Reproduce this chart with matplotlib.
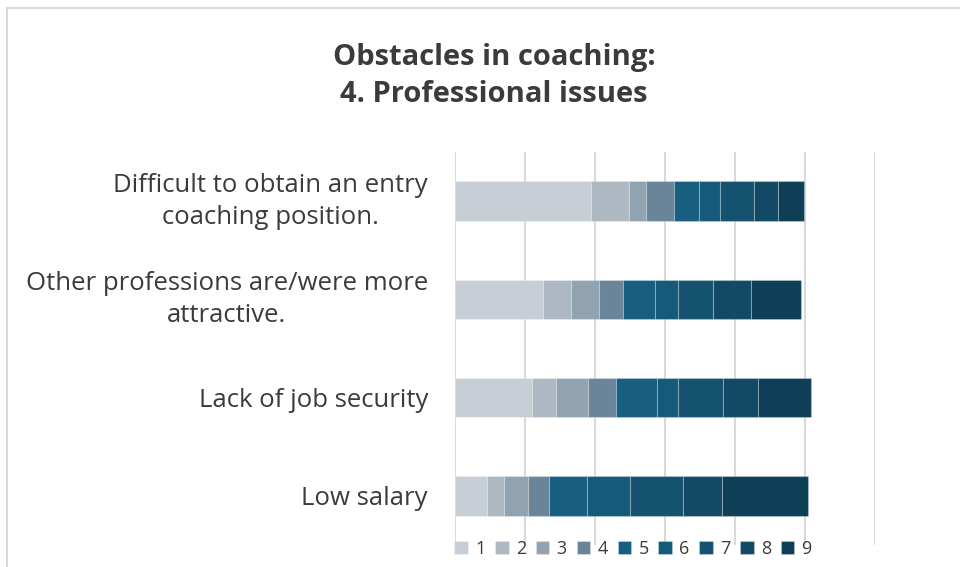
import numpy as np
import matplotlib.pyplot as plt
from matplotlib.lines import Line2D

plt.rcParams["font.family"] = ["Open Sans", "DejaVu Sans"]

categories = [
    "Difficult to obtain an entry\ncoaching position.",
    "Other professions are/were more\nattractive.",
    "Lack of job security",
    "Low salary",
]
levels = ["1", "2", "3", "4", "5", "6", "7", "8", "9"]

# one list per category, values for levels 1..9
difficult_entry = [19.4, 5.4, 2.5, 4.0, 3.5, 3.1, 4.8, 3.4, 3.7]
other_professions = [12.6, 4.0, 4.0, 3.4, 4.5, 3.4, 5.0, 5.4, 7.1]
job_security = [11.0, 3.4, 4.6, 4.0, 5.9, 3.0, 6.4, 5.0, 7.6]
low_salary = [4.6, 2.4, 3.4, 3.0, 5.5, 6.1, 7.5, 5.6, 12.3]

colors = ["#c7ced6", "#adb8c3", "#91a3b0", "#6a8599", "#175e80",
          "#155a7a", "#14526f", "#124a66", "#0f3f57"]
text_color = "#3b3b3b"

data = np.array([difficult_entry, other_professions, job_security, low_salary])

fig = plt.figure(figsize=(9.6, 5.67), dpi=100)
ax = fig.add_axes([455 / 960, 1 - 545 / 567, 420 / 960, 393 / 567])

y = np.arange(len(categories))
left = np.zeros(len(categories))
for i, lev in enumerate(levels):
    ax.barh(y, data[:, i], left=left, height=0.4, color=colors[i],
            edgecolor=(1, 1, 1, 0.25), linewidth=0.8, label=lev, zorder=3)
    left += data[:, i]

ax.set_xlim(0, 60)
ax.set_ylim(len(categories) - 0.5, -0.5)
ax.set_xticks(np.arange(0, 61, 10))
ax.xaxis.grid(True, color="#d9d9d9", linewidth=1.5, zorder=0)
ax.tick_params(axis="x", length=0, labelbottom=False)
ax.tick_params(axis="y", length=0, pad=19.5)
ax.set_yticks(y)
ax.set_yticklabels(categories, fontsize=18.5, color=text_color, linespacing=1.38)
for lbl in ax.get_yticklabels():
    lbl.set_horizontalalignment("right")
    lbl.set_multialignment("center")
    if "\n" in lbl.get_text():
        lbl.set_verticalalignment("center")
for s in ax.spines.values():
    s.set_visible(False)

fig.text(494 / 960, 1 - 76 / 567, "Obstacles in coaching:\n4. Professional issues",
         ha="center", va="center", fontsize=21, fontweight="bold",
         color=text_color, linespacing=1.36)

# chart border (cropped at right and bottom)
fig.add_artist(Line2D([7 / 960, 1], [1 - 8 / 567] * 2, transform=fig.transFigure,
                      color="#d9d9d9", linewidth=1.5))
fig.add_artist(Line2D([7 / 960] * 2, [0, 1 - 8 / 567], transform=fig.transFigure,
                      color="#d9d9d9", linewidth=1.5))

handles, labels = ax.get_legend_handles_labels()
fig.legend(handles, labels, loc="center", bbox_to_anchor=(633 / 960, 1 - 549 / 567),
           ncol=9, frameon=False, fontsize=13, handlelength=0.75, handleheight=0.75,
           handletextpad=0.4, columnspacing=0.54, labelcolor=text_color,
           borderpad=0)

fig.savefig("out.png", dpi=100)
